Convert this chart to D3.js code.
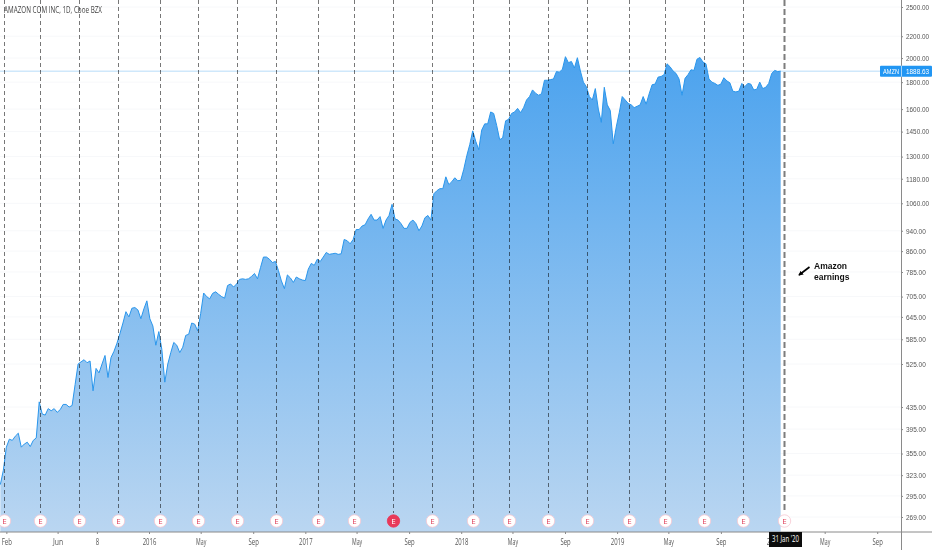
<!DOCTYPE html>
<html>
<head>
<meta charset="utf-8">
<script src="https://cdn.jsdelivr.net/npm/d3@7"></script>
<style>
	html, body { margin: 0; padding: 0; background: #fff; }
	svg { display: block; }
</style>
</head>
<body>
<div id="chart"></div>
<script>
	var title = "AMAZON COM INC, 1D, Cboe BZX";
	var symbol = "AMZN";
	var notes = ["Amazon", "earnings"];
	var dateTag = "31 Jan '20";

	// one close per week, first week is firstWeek
	var firstWeek = "2015-01-18";
	var weeklyClose = [
		310, 330, 365, 378, 376, 383, 388, 365, 370, 373, 366, 376, 380, 445, 422,
		420, 432, 428, 432, 425, 430, 440, 440, 435, 438, 480, 525, 530, 535, 528,
		532, 467, 515, 505, 525, 545, 495, 540, 555, 575, 600, 628, 660, 645, 670,
		672, 665, 640, 668, 692, 640, 620, 570, 605, 560, 485, 525, 552, 577, 570,
		552, 565, 595, 598, 628, 625, 607, 655, 716, 705, 698, 715, 720, 712, 705,
		700, 740, 745, 735, 745, 760, 762, 760, 762, 770, 780, 762, 800, 838, 838,
		830, 818, 822, 790, 755, 730, 775, 765, 750, 768, 762, 758, 756, 795, 815,
		808, 830, 822, 838, 855, 848, 850, 852, 848, 850, 905, 900, 888, 905, 945,
		945, 960, 965, 990, 1010, 985, 985, 1000, 950, 985, 1005, 1055, 990, 985, 970,
		950, 950, 975, 985, 970, 940, 960, 995, 1005, 985, 1105, 1120, 1130, 1130, 1190,
		1150, 1165, 1185, 1170, 1172, 1230, 1305, 1370, 1455, 1390, 1340, 1460, 1500, 1500, 1580,
		1570, 1490, 1400, 1410, 1520, 1530, 1570, 1580, 1605, 1575, 1610, 1665, 1690, 1740, 1715,
		1700, 1710, 1815, 1815, 1820, 1825, 1885, 1880, 1905, 2012, 1960, 1970, 1915, 2003, 1890,
		1800, 1765, 1690, 1665, 1750, 1600, 1510, 1760, 1630, 1590, 1375, 1480, 1575, 1690, 1665,
		1640, 1630, 1610, 1620, 1630, 1690, 1635, 1710, 1780, 1785, 1840, 1845, 1860, 1950, 1925,
		1890, 1870, 1825, 1700, 1830, 1860, 1900, 1895, 1990, 2005, 1965, 1950, 1825, 1800, 1790,
		1775, 1785, 1835, 1810, 1795, 1730, 1725, 1730, 1790, 1765, 1790, 1785, 1740, 1745, 1800,
		1750, 1760, 1790, 1870, 1895, 1885, 1888.63
	];

	var earningsDates = [
		"2015-01-29", "2015-04-23", "2015-07-23", "2015-10-22",
		"2016-01-28", "2016-04-28", "2016-07-28", "2016-10-27",
		"2017-02-02", "2017-04-27", "2017-07-27", "2017-10-26",
		"2018-02-01", "2018-04-26", "2018-07-26", "2018-10-25",
		"2019-01-31", "2019-04-25", "2019-07-25", "2019-10-24",
		"2020-01-30"
	];
	var highlightedEarnings = "2017-07-27";

	var priceTicks = [2500, 2200, 2000, 1800, 1600, 1450, 1300, 1180, 1060, 940, 860, 785, 705, 645, 585, 525, 435, 395, 355, 323, 295, 269];

	var timeTickDates = [
		"2015-02-01", "2015-06-01", "2015-09-01", "2016-01-01", "2016-05-01", "2016-09-01",
		"2017-01-01", "2017-05-01", "2017-09-01", "2018-01-01", "2018-05-01", "2018-09-01",
		"2019-01-01", "2019-05-01", "2019-09-01", "2020-01-01", "2020-05-01", "2020-09-01"
	];
	var timeTickLabels = [
		"Feb", "Jun", "8", "2016", "May", "Sep",
		"2017", "May", "Sep", "2018", "May", "Sep",
		"2019", "May", "Sep", "2020", "May", "Sep"
	];

	var WIDTH = 932, HEIGHT = 550;
	var PLOT_RIGHT = 901, PLOT_BOTTOM = 532;
	var FONT = '"Open Sans", "Noto Sans", sans-serif';
	var PRICE_FONT = '"Liberation Sans", sans-serif';

	var parse_date = d3.utcParse("%Y-%m-%d");

	var x = d3.scaleUtc()
		.domain([parse_date("2016-01-01"), parse_date("2020-01-01")])
		.range([149, 773]);

	var y = d3.scaleLog()
		.domain([2500, 269])
		.range([7, 517]);

	var series = weeklyClose.map(function(d, i) {
		return {date: d3.utcWeek.offset(parse_date(firstWeek), i), close: d};
	});
	var lastClose = weeklyClose[weeklyClose.length - 1];

	//the reference's labels are horizontally squeezed, so fit them to a width
	function squeeze(sel, px_per_char) {
		sel.attr("textLength", function() {
				return this.textContent.length * px_per_char;
			})
			.attr("lengthAdjust", "spacingAndGlyphs");
	}

	var svg = d3.select("#chart").append("svg")
		.attr("width", WIDTH)
		.attr("height", HEIGHT)
		.style("font-family", FONT);

	var defs = svg.append("defs");

	var gradient = defs.append("linearGradient")
		.attr("id", "area_fill")
		.attr("gradientUnits", "userSpaceOnUse")
		.attr("x1", 0).attr("x2", 0)
		.attr("y1", 50).attr("y2", PLOT_BOTTOM);
	gradient.append("stop").attr("offset", "0%").attr("stop-color", "#4aa2ee");
	gradient.append("stop").attr("offset", "100%").attr("stop-color", "#bad6f1");

	// faint price grid
	svg.append("g").selectAll("line")
		.data(priceTicks)
		.enter().append("line")
			.attr("x1", 0)
			.attr("x2", PLOT_RIGHT)
			.attr("y1", d => y(d))
			.attr("y2", d => y(d))
			.attr("stroke", "#f7f8fa");

	// last price line, the area covers it
	svg.append("line")
		.attr("x1", 0)
		.attr("x2", PLOT_RIGHT)
		.attr("y1", y(lastClose))
		.attr("y2", y(lastClose))
		.attr("stroke", "#cfe8fb")
		.attr("stroke-width", 1.5);

	svg.append("path")
		.datum(series)
		.attr("fill", "url(#area_fill)")
		.attr("d", d3.area()
			.x(d => x(d.date))
			.y0(PLOT_BOTTOM)
			.y1(d => y(d.close)));

	svg.append("path")
		.datum(series)
		.attr("fill", "none")
		.attr("stroke", "#2a96ec")
		.attr("stroke-width", 1)
		.attr("d", d3.line()
			.x(d => x(d.date))
			.y(d => y(d.close)));

	var earnings = svg.append("g").selectAll("g")
		.data(earningsDates)
		.enter().append("g")
			.attr("transform", d => "translate(" + (Math.round(x(parse_date(d))) - 0.5) + ",0)");

	earnings.append("line")
		.attr("y1", 0)
		.attr("y2", 513)
		.attr("stroke", (d, i) => i == earningsDates.length - 1 ? "#7d7d7d" : "#777")
		.attr("stroke-width", (d, i) => i == earningsDates.length - 1 ? 2 : 1)
		.attr("stroke-dasharray", (d, i) => i == earningsDates.length - 1 ? "6,3" : "4,3")
		.style("mix-blend-mode", "multiply");

	earnings.append("circle")
		.attr("cy", 521)
		.attr("r", 6.2)
		.attr("fill", d => d == highlightedEarnings ? "#e8395a" : "#fff")
		.attr("stroke", d => d == highlightedEarnings ? "#e8395a" : "#f6c6d0")
		.attr("stroke-width", 0.8);

	earnings.append("text")
		.attr("y", 521)
		.attr("dy", ".35em")
		.attr("text-anchor", "middle")
		.attr("font-size", 8)
		.attr("fill", d => d == highlightedEarnings ? "#fff" : "#e0455f")
		.text("E");

	// axes
	var price_axis = svg.append("g")
		.attr("transform", "translate(" + PLOT_RIGHT + ",0)")
		.call(d3.axisRight(y)
			.tickValues(priceTicks)
			.tickFormat(d3.format(".2f"))
			.tickSizeOuter(0)
			.tickSize(2)
			.tickPadding(3));
	price_axis.select(".domain")
		.attr("d", "M0.5,0V" + HEIGHT)
		.attr("stroke", "#8a8a8a");
	price_axis.selectAll(".tick line").attr("stroke", "#8a8a8a");
	price_axis.selectAll("text")
		.attr("font-size", 7)
		.attr("font-family", PRICE_FONT)
		.attr("fill", "#555")
		.call(squeeze, 3.3);

	svg.append("line")
		.attr("x1", 0)
		.attr("x2", WIDTH)
		.attr("y1", PLOT_BOTTOM)
		.attr("y2", PLOT_BOTTOM)
		.attr("stroke", "#8a8a8a");

	var time_axis = svg.append("g")
		.attr("transform", "translate(0," + PLOT_BOTTOM + ")")
		.call(d3.axisBottom(x)
			.tickValues(timeTickDates.map(parse_date))
			.tickFormat((d, i) => timeTickLabels[i])
			.tickSize(2)
			.tickPadding(5));
	time_axis.select(".domain").remove();
	time_axis.selectAll(".tick line").attr("stroke", "#8a8a8a");
	time_axis.selectAll("text")
		.attr("font-size", 8.5)
		.attr("font-family", FONT)
		.attr("fill", "#555")
		.call(squeeze, 3.4);

	svg.append("text")
		.attr("x", 4)
		.attr("y", 13)
		.attr("font-size", 8.5)
		.attr("fill", "#444")
		.text(title)
		.call(squeeze, 3.5);

	// last price tag
	var tag = svg.append("g")
		.attr("transform", "translate(880," + y(lastClose) + ")");
	tag.append("rect")
		.attr("y", -5.5)
		.attr("width", 52)
		.attr("height", 11)
		.attr("rx", 1)
		.attr("fill", "#2196f3");
	tag.append("line")
		.attr("x1", 21.5)
		.attr("x2", 21.5)
		.attr("y1", -5.5)
		.attr("y2", 5.5)
		.attr("stroke", "#fff")
		.attr("stroke-opacity", 0.6);
	tag.append("text")
		.attr("x", 3)
		.attr("dy", ".35em")
		.attr("font-size", 7.5)
		.attr("font-family", PRICE_FONT)
		.attr("fill", "#fff")
		.text(symbol)
		.call(squeeze, 4);
	tag.append("text")
		.attr("x", 26)
		.attr("dy", ".35em")
		.attr("font-size", 7)
		.attr("font-family", PRICE_FONT)
		.attr("fill", "#fff")
		.text(d3.format(".2f")(lastClose))
		.call(squeeze, 3.3);

	// date tag sits over the 2020 label
	var date_tag = svg.append("g")
		.attr("transform", "translate(769,532)");
	date_tag.append("rect")
		.attr("width", 33)
		.attr("height", 15)
		.attr("fill", "#0c0c0c");
	date_tag.append("text")
		.attr("x", 16.5)
		.attr("y", 7.5)
		.attr("dy", ".35em")
		.attr("text-anchor", "middle")
		.attr("font-size", 8.5)
		.attr("fill", "#fff")
		.text(dateTag)
		.call(squeeze, 2.7);

	// hand drawn note
	defs.append("marker")
		.attr("id", "arrow_head")
		.attr("viewBox", "0 0 6 6")
		.attr("refX", 5)
		.attr("refY", 3)
		.attr("markerWidth", 3)
		.attr("markerHeight", 3)
		.attr("orient", "auto")
		.append("path")
			.attr("d", "M0,0L6,3L0,6Z")
			.attr("fill", "#000");

	svg.append("line")
		.attr("x1", 809.5)
		.attr("y1", 267)
		.attr("x2", 799)
		.attr("y2", 275)
		.attr("stroke", "#000")
		.attr("stroke-width", 1.6)
		.attr("marker-end", "url(#arrow_head)");

	svg.append("g").selectAll("text")
		.data(notes)
		.enter().append("text")
			.attr("x", 814)
			.attr("y", (d, i) => 269 + i * 10.5)
			.attr("font-family", '"Liberation Sans", sans-serif')
			.attr("font-size", 8.5)
			.attr("font-weight", "bold")
			.attr("fill", "#111")
			.text(d => d);
</script>
</body>
</html>
